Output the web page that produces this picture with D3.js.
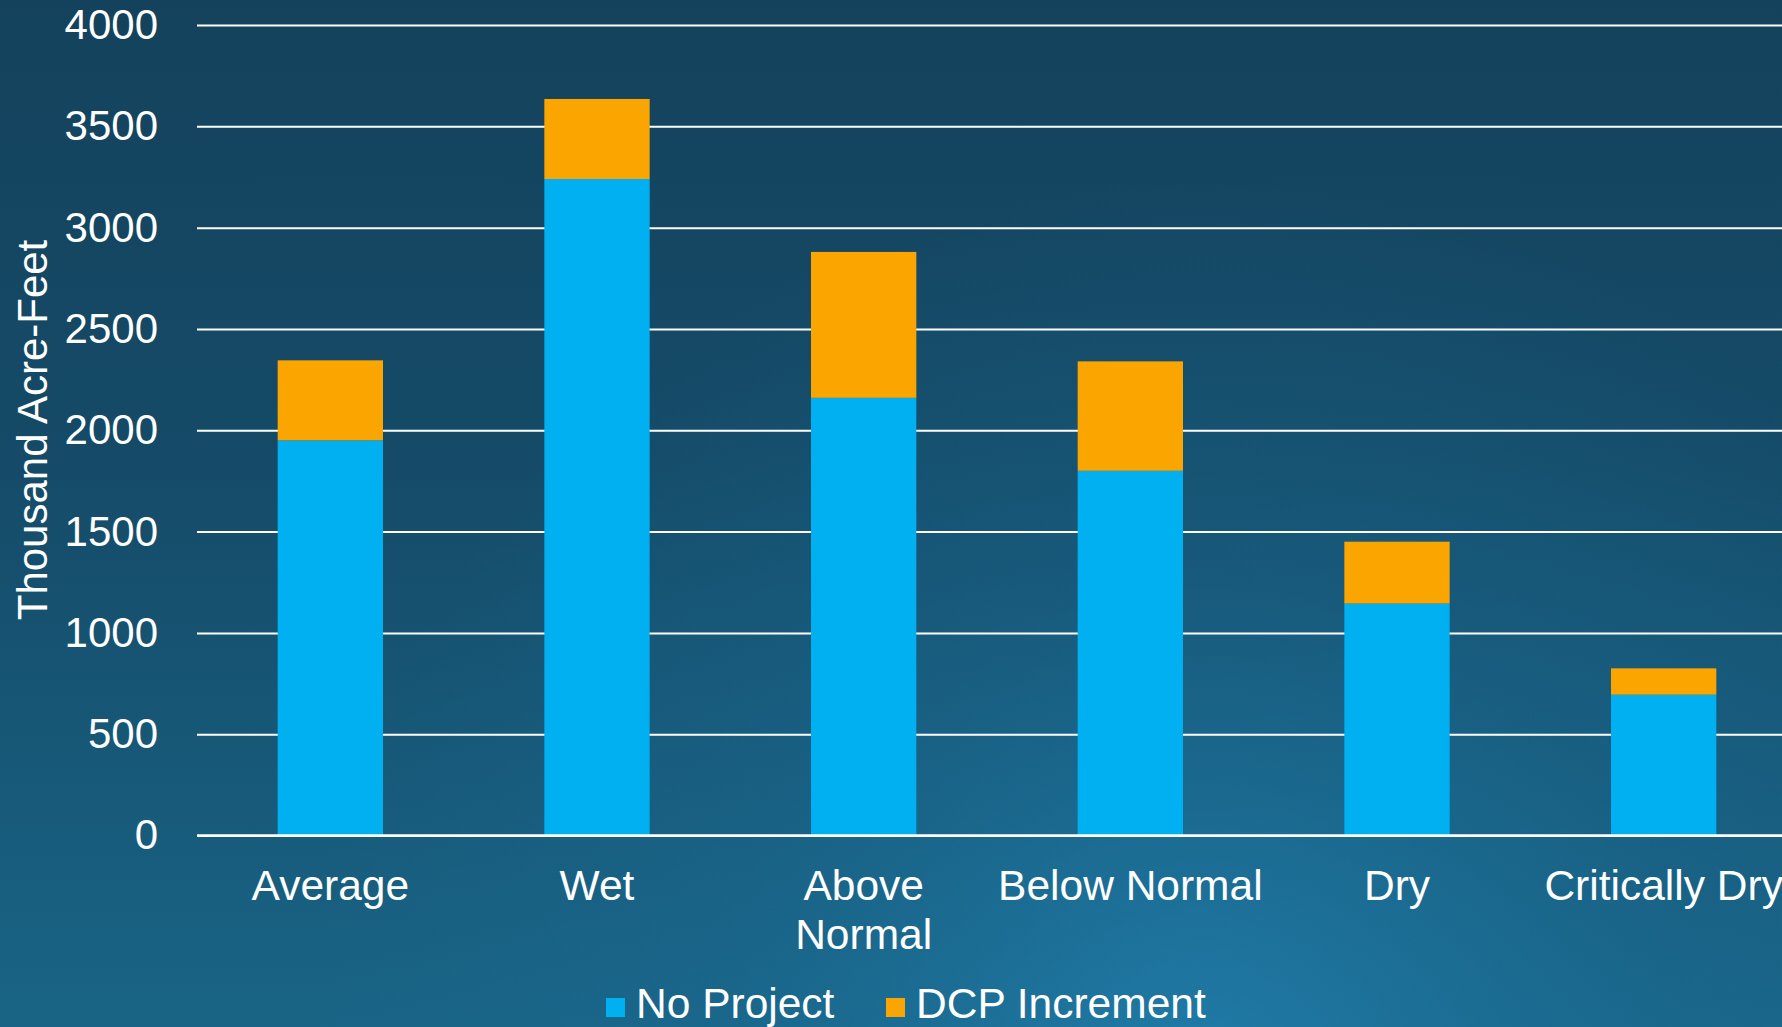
<!DOCTYPE html>
<html>
<head>
<meta charset="utf-8">
<script src="https://cdn.jsdelivr.net/npm/d3@7"></script>
<style>
  html, body { margin: 0; padding: 0; overflow: hidden; background: #144260; }
  svg { display: block; }
  text { font-family: "Liberation Sans", Arial, sans-serif; fill: #ffffff; }
</style>
</head>
<body>
<svg id="chart" width="1782" height="1027"></svg>
<script>
// Water-year types and their deliveries (thousand acre-feet)
const categories = ["Average", "Wet", "Above Normal", "Below Normal", "Dry", "Critically Dry"];
const categoryLines = [["Average"], ["Wet"], ["Above", "Normal"], ["Below Normal"], ["Dry"], ["Critically Dry"]];
const noProject = [1950, 3240, 2160, 1800, 1145, 695];
const dcpIncrement = [395, 395, 720, 540, 305, 130];
const seriesNames = ["No Project", "DCP Increment"];
const seriesColors = ["#00B0F0", "#FAA500"];
const yTicks = [0, 500, 1000, 1500, 2000, 2500, 3000, 3500, 4000];

const W = 1782, H = 1027;
const svg = d3.select("#chart");

// Background: deep teal-blue, lightening towards the bottom
const defs = svg.append("defs");
const lin = defs.append("linearGradient").attr("id", "bgLin")
  .attr("x1", 0).attr("y1", 0).attr("x2", 0).attr("y2", 1);
lin.append("stop").attr("offset", "0%").attr("stop-color", "#14425c");
lin.append("stop").attr("offset", "45%").attr("stop-color", "#154b68");
lin.append("stop").attr("offset", "100%").attr("stop-color", "#196486");
const rad = defs.append("radialGradient").attr("id", "bgRad")
  .attr("gradientUnits", "userSpaceOnUse")
  .attr("cx", 1200).attr("cy", 1080).attr("r", 900);
rad.append("stop").attr("offset", "0%").attr("stop-color", "#2180ae").attr("stop-opacity", 0.85);
rad.append("stop").attr("offset", "55%").attr("stop-color", "#1b6c95").attr("stop-opacity", 0.35);
rad.append("stop").attr("offset", "100%").attr("stop-color", "#1b6c95").attr("stop-opacity", 0);
svg.append("rect").attr("width", W).attr("height", H).attr("fill", "url(#bgLin)");
svg.append("rect").attr("width", W).attr("height", H).attr("fill", "url(#bgRad)");

// Scales
const x = d3.scaleBand().domain(categories).range([197, 1797])
  .paddingInner(0.605).paddingOuter(0.3025);
const y = d3.scaleLinear().domain([0, 4000]).range([835.5, 25]);

// Y axis with full-width gridlines
const yAxis = svg.append("g")
  .attr("transform", "translate(197,0)")
  .call(d3.axisLeft(y).tickValues(yTicks).tickSize(-1600).tickPadding(39).tickFormat(d3.format("d")));
yAxis.select(".domain").remove();
yAxis.selectAll(".tick line").attr("stroke", "#ffffff").attr("stroke-width", 2);
yAxis.selectAll(".tick text")
  .attr("fill", "#ffffff").attr("font-size", 42)
  .attr("font-family", "'Liberation Sans', Arial, sans-serif");

// Stacked bars
const rows = categories.map((c, i) => ({ cat: c, "No Project": noProject[i], "DCP Increment": dcpIncrement[i] }));
const stacked = d3.stack().keys(seriesNames)(rows);
svg.append("g").selectAll("g")
  .data(stacked).join("g")
  .attr("fill", (d, i) => seriesColors[i])
  .selectAll("rect")
  .data(d => d).join("rect")
  .attr("x", d => x(d.data.cat))
  .attr("width", x.bandwidth())
  .attr("y", d => y(d[1]))
  .attr("height", d => y(d[0]) - y(d[1]));

// Baseline drawn over the bars
svg.append("line")
  .attr("x1", 197).attr("x2", 1797)
  .attr("y1", y(0)).attr("y2", y(0))
  .attr("stroke", "#ffffff").attr("stroke-width", 2.5);

// Category labels (multi-line where needed)
const xAxis = svg.append("g")
  .attr("transform", `translate(0,${y(0)})`)
  .call(d3.axisBottom(x).tickSize(0).tickFormat(""));
xAxis.select(".domain").remove();
xAxis.selectAll(".tick").each(function (d, i) {
  const t = d3.select(this).append("text")
    .attr("text-anchor", "middle")
    .attr("font-size", 42.5)
    .attr("fill", "#ffffff")
    .attr("font-family", "'Liberation Sans', Arial, sans-serif")
    .attr("y", 64);
  categoryLines[i].forEach((line, k) => {
    t.append("tspan").attr("x", 0).attr("dy", k === 0 ? 0 : 49).text(line);
  });
});

// Y axis title
svg.append("text")
  .attr("transform", "translate(47,430) rotate(-90)")
  .attr("text-anchor", "middle")
  .attr("font-size", 42)
  .text("Thousand Acre-Feet");

// Legend
const legendX = [606, 886];
const legend = svg.append("g");
seriesNames.forEach((name, i) => {
  legend.append("rect")
    .attr("x", legendX[i]).attr("y", 998)
    .attr("width", 19).attr("height", 19)
    .attr("fill", seriesColors[i]);
  legend.append("text")
    .attr("x", legendX[i] + 30).attr("y", 1018)
    .attr("font-size", 42.5)
    .text(name);
});
</script>
</body>
</html>
